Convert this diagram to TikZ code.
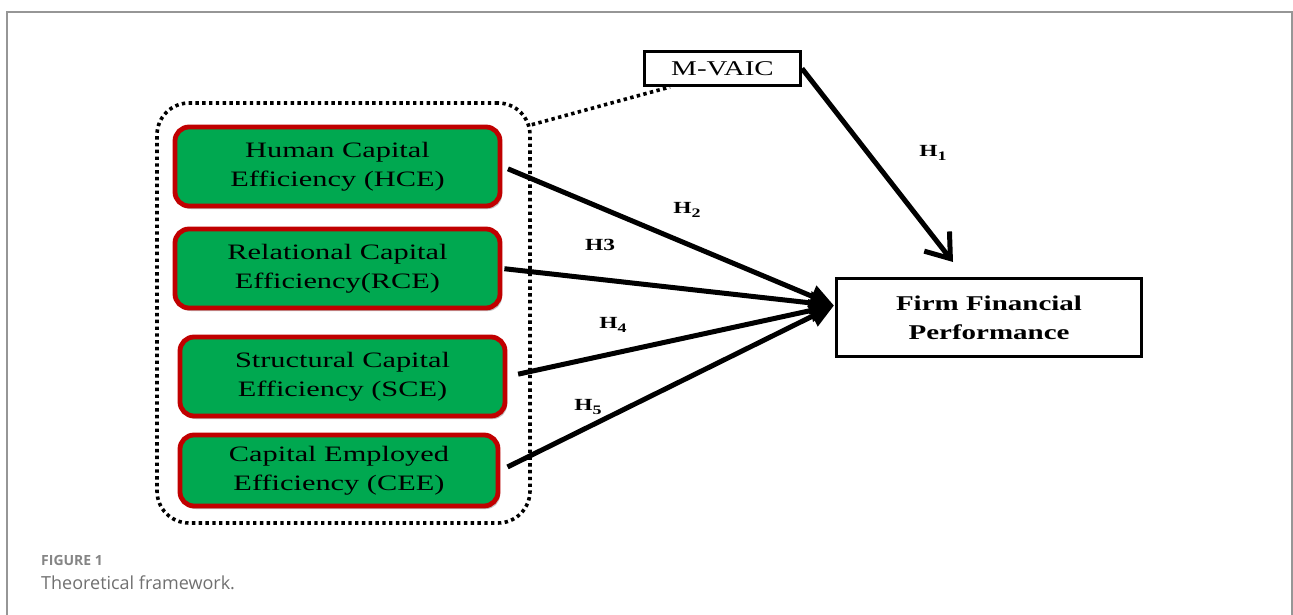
\documentclass[tikz,border=0pt]{standalone}
\usepackage{fontspec}
\setmainfont{Liberation Serif}
\newfontfamily\dfont[FakeStretch=1.38]{Liberation Serif}
\newfontfamily\capfont{Open Sans}
\usetikzlibrary{arrows.meta,shadows,calc}
\definecolor{boxgreen}{RGB}{0,168,80}
\definecolor{boxred}{RGB}{192,0,0}
\definecolor{capgray}{RGB}{112,112,112}
\definecolor{framegray}{RGB}{150,150,150}
\begin{document}
\begin{tikzpicture}[x=1pt,y=-1pt,
  capbox/.style={draw=boxred, fill=boxgreen, line width=4.8pt, rounded corners=14pt,
    minimum width=325pt, minimum height=79pt, align=center, inner sep=0pt,
    font=\dfont\fontsize{22}{29}\selectfont,
    drop shadow={shadow xshift=2pt,shadow yshift=-3pt,fill=black!40,opacity=0.6}},
  plainbox/.style={draw=black, line width=3pt, fill=white, align=center, inner sep=0pt},
  grpbox/.style={draw=black, line width=3.6pt, dash pattern=on 3.4pt off 3.4pt,
    rounded corners=32pt, minimum width=373pt, minimum height=420pt},
  hyparrow/.style={line width=5pt, -{Triangle[length=24pt,width=22pt]}},
  barbarrow/.style={line width=5pt, -{Straight Barb[length=22pt,width=32pt,line width=5pt]}},
  hlabel/.style={font=\dfont\bfseries\fontsize{17}{17}\selectfont, inner sep=0pt},
  caplabel/.style={anchor=base west, inner sep=0pt, text=capgray}
]
\useasboundingbox (0,0) rectangle (1293,615);
% outer frame
\draw[framegray, line width=1.2pt] (7,620) -- (7,12) -- (1292,12) -- (1292,620);

% group
\node[grpbox] (grp) at (343.5,313) {};

% capital boxes
\node[capbox] (hce) at (337.5,166.5) {Human Capital\\Efficiency (HCE)};
\node[capbox] (rce) at (337.5,268.5) {Relational Capital\\Efficiency(RCE)};
\node[capbox] (sce) at (342.5,376.5) {Structural Capital\\Efficiency (SCE)};
\node[capbox, minimum width=318pt, minimum height=71pt] (cee) at (339,470.5) {Capital Employed\\Efficiency (CEE)};

% M-VAIC
\node[plainbox, minimum width=156pt, minimum height=34pt, font=\dfont\fontsize{21}{21}\selectfont] (mvaic) at (722.5,68.5) {M-VAIC};

% FFP
\node[plainbox, minimum width=305pt, minimum height=78pt, font=\dfont\bfseries\fontsize{21}{29}\selectfont] (ffp) at (989,317.5) {Firm Financial\\Performance};

\coordinate (mvaicfoot) at ($(mvaic.south west)+(27,0)$);
\coordinate (ffpin) at ($(ffp.west)+(-1,-12)$);
\coordinate (h1tip) at (953,262);

% dotted link
\draw[line width=3.6pt, dash pattern=on 3.4pt off 3.4pt] (grp.45) -- (mvaicfoot);

% arrows
\draw[barbarrow] (mvaic.east) -- (h1tip);
\draw[hyparrow, shorten <=6pt] (hce.east) -- (ffpin);
\draw[hyparrow, shorten <=2pt] (rce.east) -- (ffpin);
\draw[hyparrow, shorten <=11pt] (sce.east) -- (ffpin);
\draw[hyparrow, shorten <=8pt] (cee.east) -- (ffpin);

% labels
\node[hlabel] (h1) at (933,153) {H\raisebox{-3.5pt}{\fontsize{13}{13}\selectfont 1}};
\node[hlabel] (h2) at (687,210) {H\raisebox{-3.5pt}{\fontsize{13}{13}\selectfont 2}};
\node[hlabel] (h3) at (600,245) {H3};
\node[hlabel] (h4) at (613,325) {H\raisebox{-3.5pt}{\fontsize{13}{13}\selectfont 4}};
\node[hlabel] (h5) at (588,407) {H\raisebox{-3.5pt}{\fontsize{13}{13}\selectfont 5}};

% caption
\node[caplabel, font=\capfont\bfseries\fontsize{14}{14}\selectfont, text=capgray!85] (figlab) at (41,565) {FIGURE 1};
\node[caplabel, font=\capfont\fontsize{18}{18}\selectfont] (figcap) at (41,589) {Theoretical framework.};
\end{tikzpicture}
\end{document}
